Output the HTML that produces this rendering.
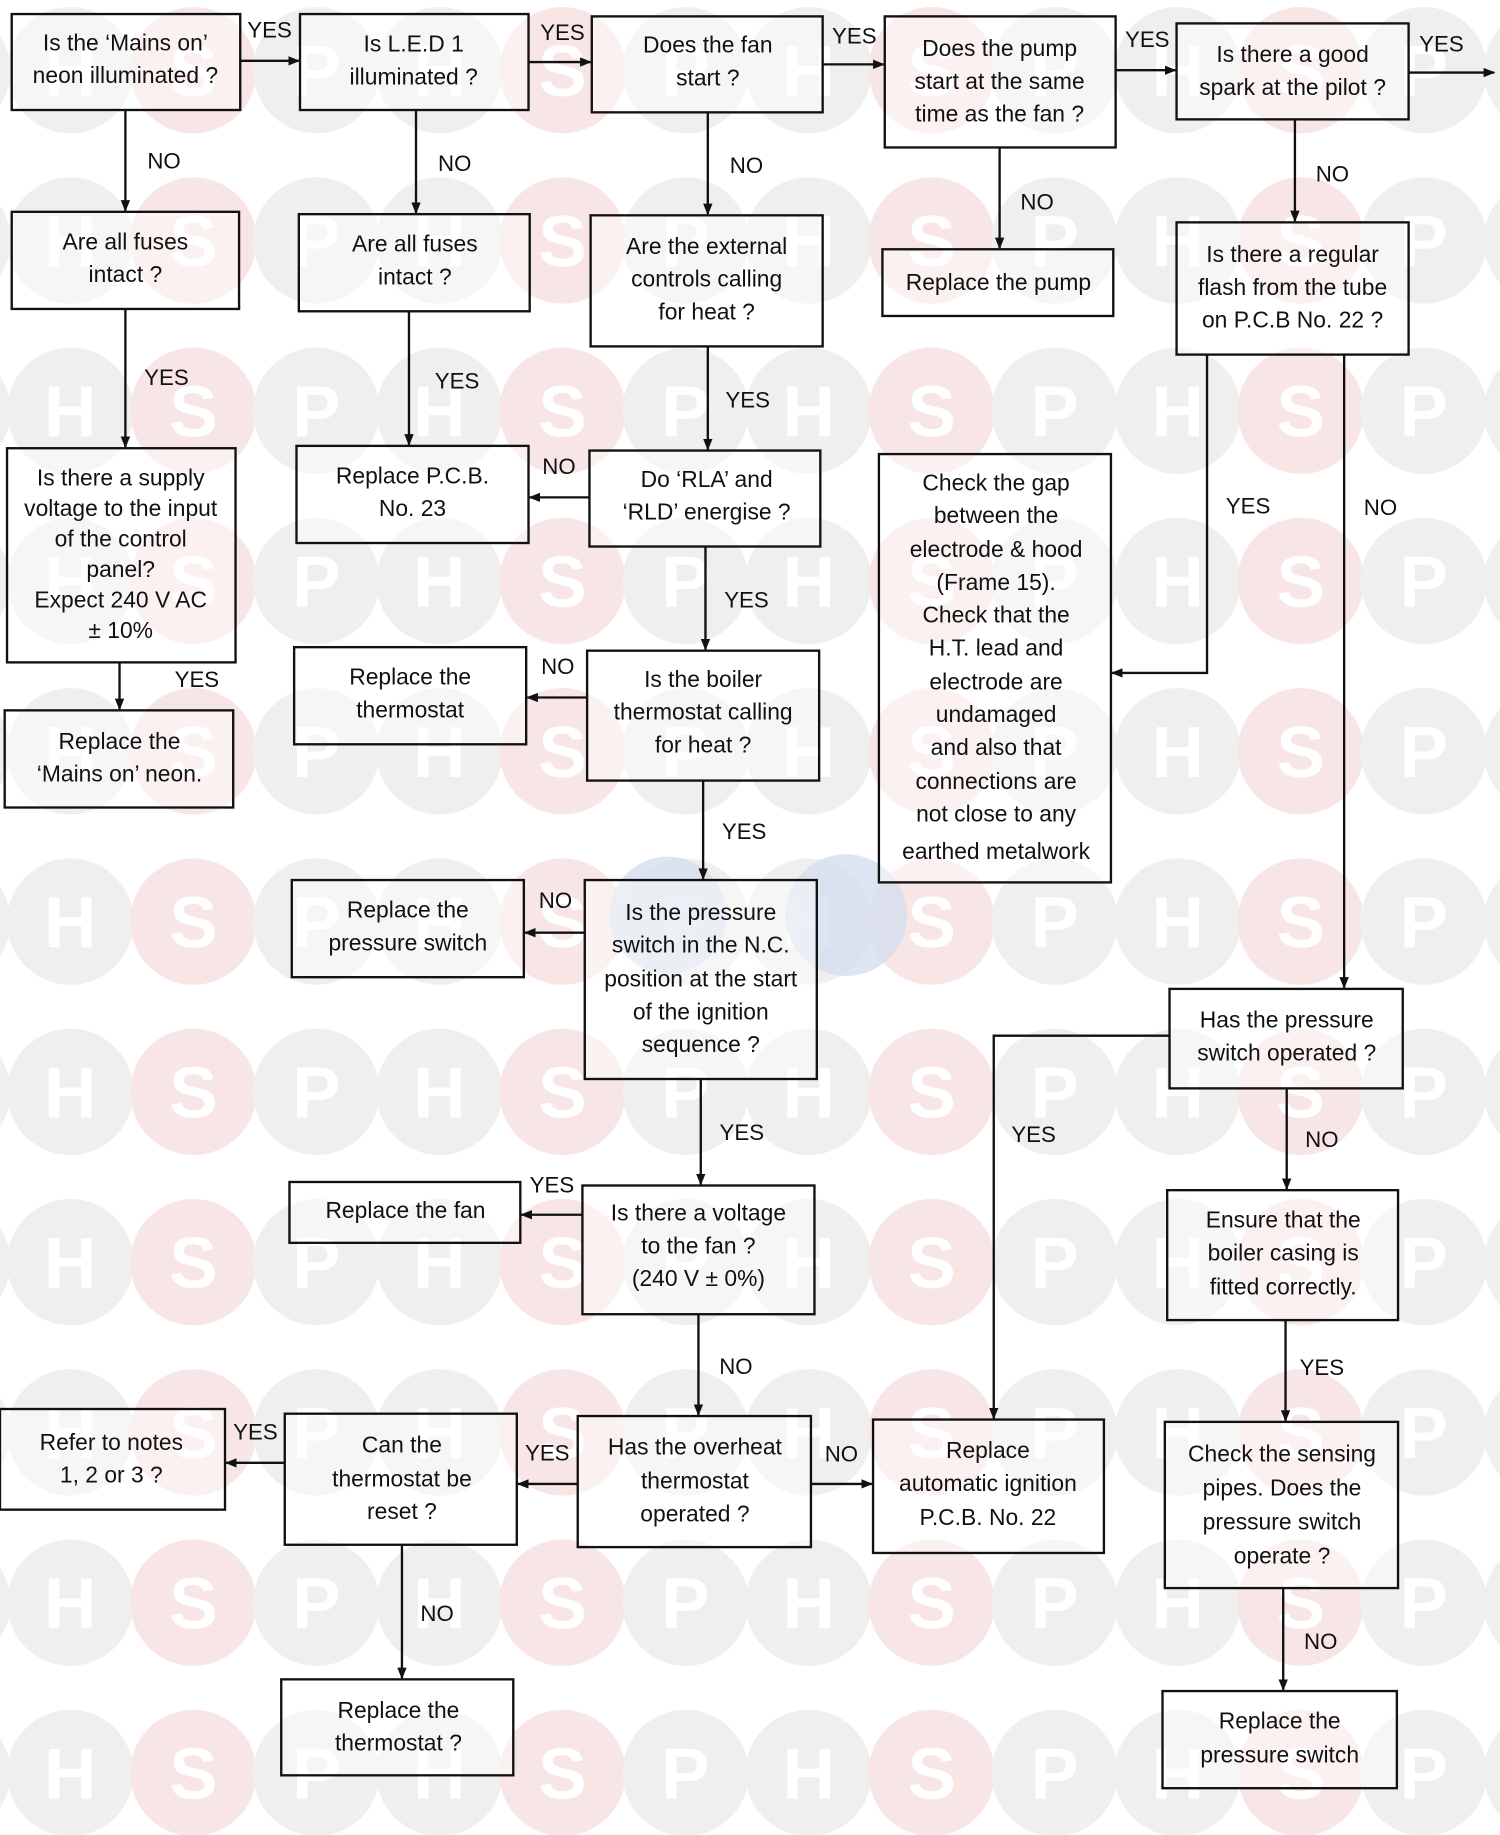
<!DOCTYPE html>
<html><head><meta charset="utf-8"><style>
html,body{margin:0;padding:0;background:#fff;width:1500px;height:1835px;overflow:hidden}
svg{display:block}
.b{fill:#fff;fill-opacity:0.45;stroke:#111;stroke-width:2}
.t{font-family:"Liberation Sans",sans-serif;font-size:19.5px;fill:#111;text-anchor:middle}
.l{font-family:"Liberation Sans",sans-serif;font-size:19px;fill:#111;text-anchor:middle}
.a{stroke:#111;stroke-width:2;fill:none}
.w{font-family:"Liberation Sans",sans-serif;font-weight:bold;font-size:62px;text-anchor:middle;fill:#fff}
</style></head><body>
<svg width="1500" height="1835" viewBox="0 0 1280 1568" preserveAspectRatio="none" xmlns="http://www.w3.org/2000/svg">
<defs>
<marker id="m" markerWidth="10" markerHeight="8" refX="9" refY="4" orient="auto" markerUnits="userSpaceOnUse"><path d="M0,0 L10,4 L0,8 z" fill="#111"/></marker>
<pattern id="wp" patternUnits="userSpaceOnUse" x="7.5" y="0" width="315" height="145.5">
<circle cx="52.5" cy="60" r="54" fill="#efefef"/>
<circle cx="157.5" cy="60" r="54" fill="#f8e6e6"/>
<circle cx="262.5" cy="60" r="54" fill="#efefef"/>
<text class="w" x="52.5" y="82">H</text>
<text class="w" x="157.5" y="82">S</text>
<text class="w" x="262.5" y="82">P</text>
</pattern>
</defs>
<rect x="0" y="0" width="1280" height="1568" fill="url(#wp)"/>
<circle cx="570" cy="782" r="50" fill="#d3deee" opacity="0.8"/>
<circle cx="722" cy="782" r="52" fill="#d3deee" opacity="0.8"/>

<rect class="b" x="10" y="12" width="195" height="82"/>
<text class="t" x="107" y="43">Is the ‘Mains on’</text><text class="t" x="107" y="71">neon illuminated ?</text>
<rect class="b" x="256" y="12" width="195" height="82"/>
<text class="t" x="353" y="44">Is L.E.D 1</text><text class="t" x="353" y="72">illuminated ?</text>
<rect class="b" x="505" y="14" width="197" height="82"/>
<text class="t" x="604" y="45">Does the fan</text><text class="t" x="604" y="73">start ?</text>
<rect class="b" x="755" y="14" width="197" height="112"/>
<text class="t" x="853" y="48">Does the pump</text><text class="t" x="853" y="76">start at the same</text><text class="t" x="853" y="104">time as the fan ?</text>
<rect class="b" x="1004" y="20" width="198" height="82"/>
<text class="t" x="1103" y="53">Is there a good</text><text class="t" x="1103" y="81">spark at the pilot ?</text>

<rect class="b" x="10" y="181" width="194" height="83"/>
<text class="t" x="107" y="213">Are all fuses</text><text class="t" x="107" y="241">intact ?</text>
<rect class="b" x="255" y="183" width="197" height="83"/>
<text class="t" x="354" y="215">Are all fuses</text><text class="t" x="354" y="243">intact ?</text>
<rect class="b" x="504" y="184" width="198" height="112"/>
<text class="t" x="603" y="217">Are the external</text><text class="t" x="603" y="245">controls calling</text><text class="t" x="603" y="273">for heat ?</text>
<rect class="b" x="753" y="213" width="197" height="57"/>
<text class="t" x="852" y="248">Replace the pump</text>
<rect class="b" x="1004" y="190" width="198" height="113"/>
<text class="t" x="1103" y="224">Is there a regular</text><text class="t" x="1103" y="252">flash from the tube</text><text class="t" x="1103" y="280">on P.C.B No. 22 ?</text>

<rect class="b" x="6" y="383" width="195" height="183"/>
<text class="t" x="103" y="415">Is there a supply</text><text class="t" x="103" y="441">voltage to the input</text><text class="t" x="103" y="467">of the control</text><text class="t" x="103" y="493">panel?</text><text class="t" x="103" y="519">Expect 240 V AC</text><text class="t" x="103" y="545">± 10%</text>
<rect class="b" x="253" y="381" width="198" height="83"/>
<text class="t" x="352" y="413">Replace P.C.B.</text><text class="t" x="352" y="441">No. 23</text>
<rect class="b" x="503" y="385" width="197" height="82"/>
<text class="t" x="603" y="416">Do ‘RLA’ and</text><text class="t" x="603" y="444">‘RLD’ energise ?</text>
<rect class="b" x="750" y="388" width="198" height="366"/>
<text class="t" x="850" y="419">Check the gap</text><text class="t" x="850" y="447">between the</text><text class="t" x="850" y="476">electrode &amp; hood</text><text class="t" x="850" y="504">(Frame 15).</text><text class="t" x="850" y="532">Check that the</text><text class="t" x="850" y="560">H.T. lead and</text><text class="t" x="850" y="589">electrode are</text><text class="t" x="850" y="617">undamaged</text><text class="t" x="850" y="645">and also that</text><text class="t" x="850" y="674">connections are</text><text class="t" x="850" y="702">not close to any</text><text class="t" x="850" y="734">earthed metalwork</text>

<rect class="b" x="4" y="607" width="195" height="83"/>
<text class="t" x="102" y="640">Replace the</text><text class="t" x="102" y="668">‘Mains on’ neon.</text>
<rect class="b" x="251" y="553" width="198" height="83"/>
<text class="t" x="350" y="585">Replace the</text><text class="t" x="350" y="613">thermostat</text>
<rect class="b" x="501" y="556" width="198" height="111"/>
<text class="t" x="600" y="587">Is the boiler</text><text class="t" x="600" y="615">thermostat calling</text><text class="t" x="600" y="643">for heat ?</text>

<rect class="b" x="249" y="752" width="198" height="83"/>
<text class="t" x="348" y="784">Replace the</text><text class="t" x="348" y="812">pressure switch</text>
<rect class="b" x="499" y="752" width="198" height="170"/>
<text class="t" x="598" y="786">Is the pressure</text><text class="t" x="598" y="814">switch in the N.C.</text><text class="t" x="598" y="843">position at the start</text><text class="t" x="598" y="871">of the ignition</text><text class="t" x="598" y="899">sequence ?</text>
<rect class="b" x="998" y="845" width="199" height="85"/>
<text class="t" x="1098" y="878">Has the pressure</text><text class="t" x="1098" y="906">switch operated ?</text>

<rect class="b" x="247" y="1010" width="197" height="52"/>
<text class="t" x="346" y="1041">Replace the fan</text>
<rect class="b" x="497" y="1013" width="198" height="110"/>
<text class="t" x="596" y="1043">Is there a voltage</text><text class="t" x="596" y="1071">to the fan ?</text><text class="t" x="596" y="1099">(240 V ± 0%)</text>
<rect class="b" x="996" y="1017" width="197" height="111"/>
<text class="t" x="1095" y="1049">Ensure that the</text><text class="t" x="1095" y="1077">boiler casing is</text><text class="t" x="1095" y="1106">fitted correctly.</text>

<rect class="b" x="0" y="1204" width="192" height="86"/>
<text class="t" x="95" y="1239">Refer to notes</text><text class="t" x="95" y="1267">1, 2 or 3 ?</text>
<rect class="b" x="243" y="1208" width="198" height="112"/>
<text class="t" x="343" y="1241">Can the</text><text class="t" x="343" y="1270">thermostat be</text><text class="t" x="343" y="1298">reset ?</text>
<rect class="b" x="493" y="1210" width="199" height="112"/>
<text class="t" x="593" y="1243">Has the overheat</text><text class="t" x="593" y="1272">thermostat</text><text class="t" x="593" y="1300">operated ?</text>
<rect class="b" x="745" y="1213" width="197" height="114"/>
<text class="t" x="843" y="1246">Replace</text><text class="t" x="843" y="1274">automatic ignition</text><text class="t" x="843" y="1303">P.C.B. No. 22</text>
<rect class="b" x="994" y="1215" width="199" height="142"/>
<text class="t" x="1094" y="1249">Check the sensing</text><text class="t" x="1094" y="1278">pipes. Does the</text><text class="t" x="1094" y="1307">pressure switch</text><text class="t" x="1094" y="1336">operate ?</text>
<rect class="b" x="240" y="1435" width="198" height="82"/>
<text class="t" x="340" y="1468">Replace the</text><text class="t" x="340" y="1496">thermostat    ?</text>
<rect class="b" x="992" y="1445" width="200" height="83"/>
<text class="t" x="1092" y="1477">Replace the</text><text class="t" x="1092" y="1506">pressure switch</text>

<g class="a" marker-end="url(#m)">
<path d="M205,52 H255"/><path d="M451,53 H504"/><path d="M702,55 H754"/><path d="M952,60 H1003"/><path d="M1202,62 H1275"/>
<path d="M107,94 V180"/><path d="M355,94 V182"/><path d="M604,96 V183"/><path d="M853,126 V212"/><path d="M1105,102 V189"/>
<path d="M107,264 V382"/><path d="M349,266 V380"/><path d="M604,296 V384"/>
<path d="M503,425 H452"/><path d="M602,467 V555"/><path d="M102,566 V606"/>
<path d="M501,596 H450"/><path d="M600,667 V751"/><path d="M499,797 H448"/>
<path d="M1030,303 V575 H949"/><path d="M1147,303 V844"/>
<path d="M998,885 H848 V1212"/>
<path d="M598,922 V1012"/><path d="M497,1038 H445"/><path d="M1098,930 V1016"/>
<path d="M596,1123 V1209"/><path d="M692,1268 H744"/><path d="M493,1268 H442"/><path d="M243,1250 H193"/>
<path d="M1097,1128 V1214"/><path d="M343,1320 V1434"/><path d="M1095,1357 V1444"/>
</g>

<text class="l" x="230" y="32">YES</text><text class="l" x="480" y="34">YES</text><text class="l" x="729" y="37">YES</text><text class="l" x="979" y="40">YES</text><text class="l" x="1230" y="44">YES</text>
<text class="l" x="140" y="144">NO</text><text class="l" x="388" y="146">NO</text><text class="l" x="637" y="148">NO</text><text class="l" x="885" y="179">NO</text><text class="l" x="1137" y="155">NO</text>
<text class="l" x="142" y="329">YES</text><text class="l" x="390" y="332">YES</text><text class="l" x="638" y="348">YES</text>
<text class="l" x="477" y="405">NO</text><text class="l" x="637" y="519">YES</text><text class="l" x="168" y="587">YES</text>
<text class="l" x="1065" y="439">YES</text><text class="l" x="1178" y="440">NO</text>
<text class="l" x="476" y="576">NO</text><text class="l" x="635" y="717">YES</text><text class="l" x="474" y="776">NO</text>
<text class="l" x="882" y="976">YES</text><text class="l" x="633" y="974">YES</text><text class="l" x="1128" y="980">NO</text>
<text class="l" x="471" y="1019">YES</text><text class="l" x="628" y="1174">NO</text><text class="l" x="1128" y="1175">YES</text>
<text class="l" x="218" y="1230">YES</text><text class="l" x="467" y="1248">YES</text><text class="l" x="718" y="1249">NO</text>
<text class="l" x="373" y="1385">NO</text><text class="l" x="1127" y="1409">NO</text>
</svg>
</body></html>
